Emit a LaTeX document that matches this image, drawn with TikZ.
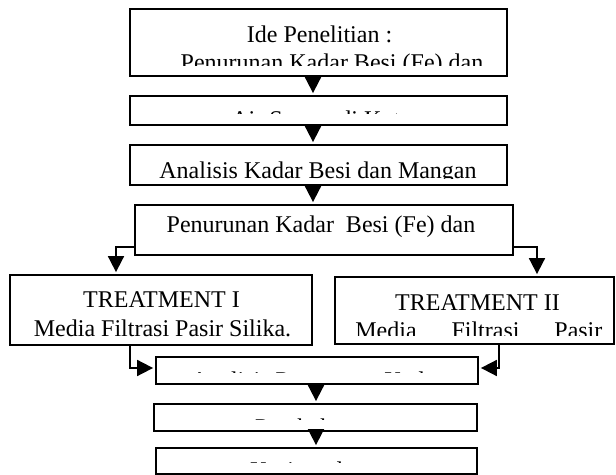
\documentclass[tikz,border=0pt]{standalone}
\usepackage{fontspec}
\setmainfont{Liberation Serif}
\usetikzlibrary{arrows.meta}

\tikzset{
  box/.style={draw, line width=0.9pt, inner sep=0pt},
  txt/.style={anchor=base, inner sep=0pt, font=\fontsize{12pt}{14pt}\selectfont},
  arr/.style={line width=0.9pt, shorten >=1pt, -{Triangle[length=8pt,width=8pt]}},
}

\begin{document}
\begin{tikzpicture}[x=0.5pt, y=-0.5pt]
\useasboundingbox (0,0) rectangle (616,475);
% boxes
\node[box, minimum width=188.5pt, minimum height=33.5pt] (ide) at (318.5,42.5) {};
\node[box, minimum width=188.5pt, minimum height=14.5pt] (air) at (318.5,110.5) {};
\node[box, minimum width=188.5pt, minimum height=20pt] (awal) at (318.5,165) {};
\node[box, minimum width=189pt, minimum height=25pt] (turun) at (324,230) {};
\node[box, minimum width=151pt, minimum height=35pt] (treatA) at (161,310) {};
\node[box, minimum width=139.5pt, minimum height=33.5pt] (treatB) at (474.5,310.5) {};
\node[box, minimum width=161pt, minimum height=13.5pt] (akhir) at (317,370.5) {};
\node[box, minimum width=161.5pt, minimum height=13.5pt] (bahas) at (315.5,417.5) {};
\node[box, minimum width=160.5pt, minimum height=13pt] (simpul) at (316.5,461) {};
% texts, cut off at the lower edge
\scope
\clip (ide.north west) rectangle ([yshift=5.5pt]ide.south east);
\node[txt] (ide1) at (319.5,43) {Ide Penelitian :};
\node[txt] (ide2) at (332,71) {Penurunan Kadar Besi (Fe) dan};
\endscope
\scope
\clip (air.north west) rectangle ([yshift=6pt]air.south east);
\node[txt] (air1) at (321,128) {Air Sumur di Kota};
\endscope
\scope
\clip (awal.north west) rectangle ([yshift=3.5pt]awal.south east);
\node[txt] (awal1) at (318,179) {Analisis Kadar Besi dan Mangan};
\endscope
\node[txt] (turun1) at (321,233) {Penurunan Kadar\ \ Besi (Fe) dan};
\node[txt] (treatA1) at (161.5,308) {TREATMENT I};
\node[txt] (treatA2) at (162.5,337) {Media Filtrasi Pasir Silika.};
\scope
\clip (treatB.north west) rectangle ([yshift=4.5pt]treatB.south east);
\node[txt] (treatB1) at (477.5,311) {TREATMENT II};
\node[txt, anchor=base west] (treatB2) at (355,339)
  {\makebox[123.5pt][s]{Media Filtrasi Pasir}};
\endscope
\scope
\clip (akhir.north west) rectangle ([yshift=6pt]akhir.south east);
\node[txt] (akhir1) at (317,389) {Analisis Penurunan Kadar};
\endscope
\scope
\clip (bahas.north west) rectangle ([yshift=6pt]bahas.south east);
\node[txt] (bahas1) at (315,436) {Pembahasan};
\endscope
\scope
\clip (simpul.north west) rectangle ([yshift=6pt]simpul.south east);
\node[txt] (simpul1) at (308,479) {Kesimpulan};
\endscope
% arrows
\coordinate (c1) at (313,0);
\coordinate (c2) at (316,0);
\draw[arr] (ide.south -| c1) -- (air.north -| c1);
\draw[arr] (air.south -| c1) -- (awal.north -| c1);
\draw[arr] (awal.south -| c1) -- (turun.north -| c1);
\coordinate (l1) at (116,247);
\coordinate (r1) at (537,247);
\draw[arr] (turun.west |- l1) -- (l1) -- (l1 |- treatA.north);
\draw[arr] (turun.east |- r1) -- (r1) -- (r1 |- treatB.north);
\coordinate (l2) at (130,368);
\coordinate (r2) at (499,368);
\draw[arr] (l2 |- treatA.south) -- (l2) -- (akhir.west |- l2);
\draw[arr] (r2 |- treatB.south) -- (r2) -- (akhir.east |- r2);
\draw[arr] (akhir.south -| c2) -- (bahas.north -| c2);
\draw[arr] (bahas.south -| c2) -- (simpul.north -| c2);
\end{tikzpicture}
\end{document}
